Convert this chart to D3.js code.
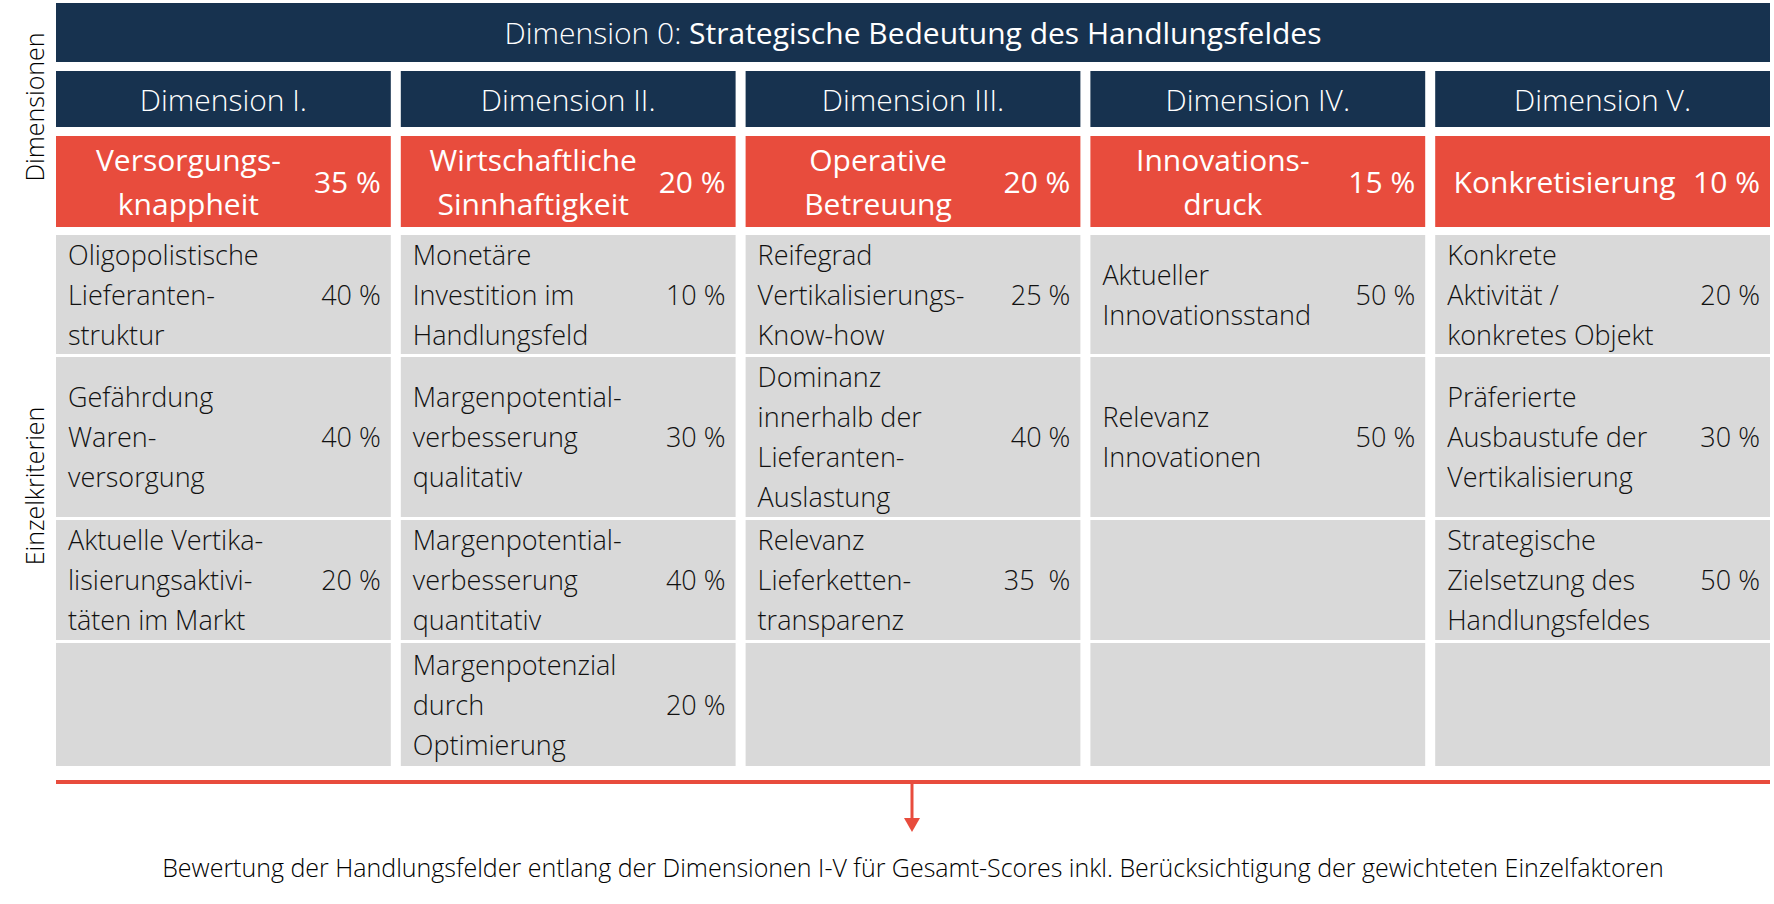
<!DOCTYPE html>
<html><head><meta charset="utf-8">
<script src="https://cdn.jsdelivr.net/npm/d3@7"></script>
<style>body{margin:0;background:#fff}text{font-family:"Open Sans",sans-serif}</style>
</head><body><svg id="canvas"></svg>
<script>
const width = 1774, height = 904;
const navy = "#17324f", red = "#e84c3d", grey = "#d9d9d9";

// data
const dimensions = ["Dimension I.", "Dimension II.", "Dimension III.", "Dimension IV.", "Dimension V."];
const headers = [["Versorgungs-", "knappheit"], ["Wirtschaftliche", "Sinnhaftigkeit"], ["Operative", "Betreuung"], ["Innovations-", "druck"], ["Konkretisierung"]];
const weights = ["35 %", "20 %", "20 %", "15 %", "10 %"];
const criteria = [
  [[["Oligopolistische", "Lieferanten-", "struktur"], "40 %"], [["Gefährdung", "Waren-", "versorgung"], "40 %"], [["Aktuelle Vertika-", "lisierungsaktivi-", "täten im Markt"], "20 %"]],
  [[["Monetäre", "Investition im", "Handlungsfeld"], "10 %"], [["Margenpotential-", "verbesserung", "qualitativ"], "30 %"], [["Margenpotential-", "verbesserung", "quantitativ"], "40 %"], [["Margenpotenzial", "durch", "Optimierung"], "20 %"]],
  [[["Reifegrad", "Vertikalisierungs-", "Know-how"], "25 %"], [["Dominanz", "innerhalb der", "Lieferanten-", "Auslastung"], "40 %"], [["Relevanz", "Lieferketten-", "transparenz"], "35  %"]],
  [[["Aktueller", "Innovationsstand"], "50 %"], [["Relevanz", "Innovationen"], "50 %"]],
  [[["Konkrete", "Aktivität /", "konkretes Objekt"], "20 %"], [["Präferierte", "Ausbaustufe der", "Vertikalisierung"], "30 %"], [["Strategische", "Zielsetzung des", "Handlungsfeldes"], "50 %"]]
];
const rowEdges = [235, 357, 520, 643, 769];
const footer = "Bewertung der Handlungsfelder entlang der Dimensionen I-V für Gesamt-Scores inkl. Berücksichtigung der gewichteten Einzelfaktoren";

const svg = d3.select("#canvas").attr("width", width).attr("height", height);
const x = d3.scaleBand().domain(d3.range(5)).range([56, 1780]).paddingInner(0.03).paddingOuter(0);
const bw = 1770 - 56 - 4 * 10; // not used directly
const colW = (1770 - 56 - 40) / 5;
const cx = i => 56 + i * (colW + 10);

// title bar
svg.append("rect").attr("x", 56).attr("y", 3).attr("width", 1714).attr("height", 59).attr("fill", navy);
const t = svg.append("text").attr("x", 913).attr("y", 44).attr("text-anchor", "middle").attr("fill", "#fff").attr("font-size", 30);
t.append("tspan").attr("font-weight", 300).text("Dimension 0: ");
t.append("tspan").attr("font-weight", 400).text("Strategische Bedeutung des Handlungsfeldes");

// side labels
[["Dimensionen", 107], ["Einzelkriterien", 486]].forEach(([s, y]) => {
  svg.append("text").attr("transform", `translate(44,${y}) rotate(-90)`).attr("text-anchor", "middle")
    .attr("font-size", 25).attr("font-weight", 300).text(s);
});

dimensions.forEach((d, i) => {
  const x0 = cx(i);
  svg.append("rect").attr("x", x0).attr("y", 71).attr("width", colW).attr("height", 56).attr("fill", navy);
  svg.append("text").attr("x", x0 + colW / 2).attr("y", 111).attr("text-anchor", "middle").attr("fill", "#fff")
    .attr("font-size", 30).attr("font-weight", 300).text(d);

  svg.append("rect").attr("x", x0).attr("y", 136).attr("width", colW).attr("height", 91).attr("fill", red);
  const h = headers[i];
  const ht = svg.append("text").attr("text-anchor", "middle").attr("fill", "#fff").attr("font-size", 30);
  const hx = h.length > 1 ? x0 + (colW - 80) / 2 + 5 : x0 + (colW - 80) / 2 + 2;
  h.forEach((line, k) => ht.append("tspan").attr("x", hx).attr("y", 182 + 11 + (k - (h.length - 1) / 2) * 44).text(line));
  svg.append("text").attr("x", x0 + colW - 10).attr("y", 193).attr("text-anchor", "end").attr("fill", "#fff")
    .attr("font-size", 30).text(weights[i]);

  for (let r = 0; r < 4; r++) {
    const y0 = rowEdges[r], y1 = rowEdges[r + 1] - 3;
    svg.append("rect").attr("x", x0).attr("y", y0).attr("width", colW).attr("height", y1 - y0).attr("fill", grey);
    const c = criteria[i][r];
    if (!c) continue;
    const mid = (y0 + y1) / 2;
    const ct = svg.append("text").attr("font-size", 27).attr("font-weight", 300).attr("fill", "#111");
    c[0].forEach((line, k) => ct.append("tspan").attr("x", x0 + 12).attr("y", mid + 10 + (k - (c[0].length - 1) / 2) * 40).text(line));
    svg.append("text").attr("x", x0 + colW - 10).attr("y", mid + 10).attr("text-anchor", "end")
      .attr("font-size", 27).attr("font-weight", 300).attr("fill", "#111").style("white-space", "pre").text(c[1]);
  }
});

// arrow + footer
svg.append("line").attr("x1", 56).attr("x2", 1770).attr("y1", 782).attr("y2", 782).attr("stroke", red).attr("stroke-width", 4);
svg.append("line").attr("x1", 912).attr("x2", 912).attr("y1", 782).attr("y2", 820).attr("stroke", red).attr("stroke-width", 3);
svg.append("path").attr("d", "M904,818 L920,818 L912,832 Z").attr("fill", red);
svg.append("text").attr("x", 913).attr("y", 877).attr("text-anchor", "middle").attr("font-size", 25).attr("font-weight", 300).text(footer);
</script></body></html>
